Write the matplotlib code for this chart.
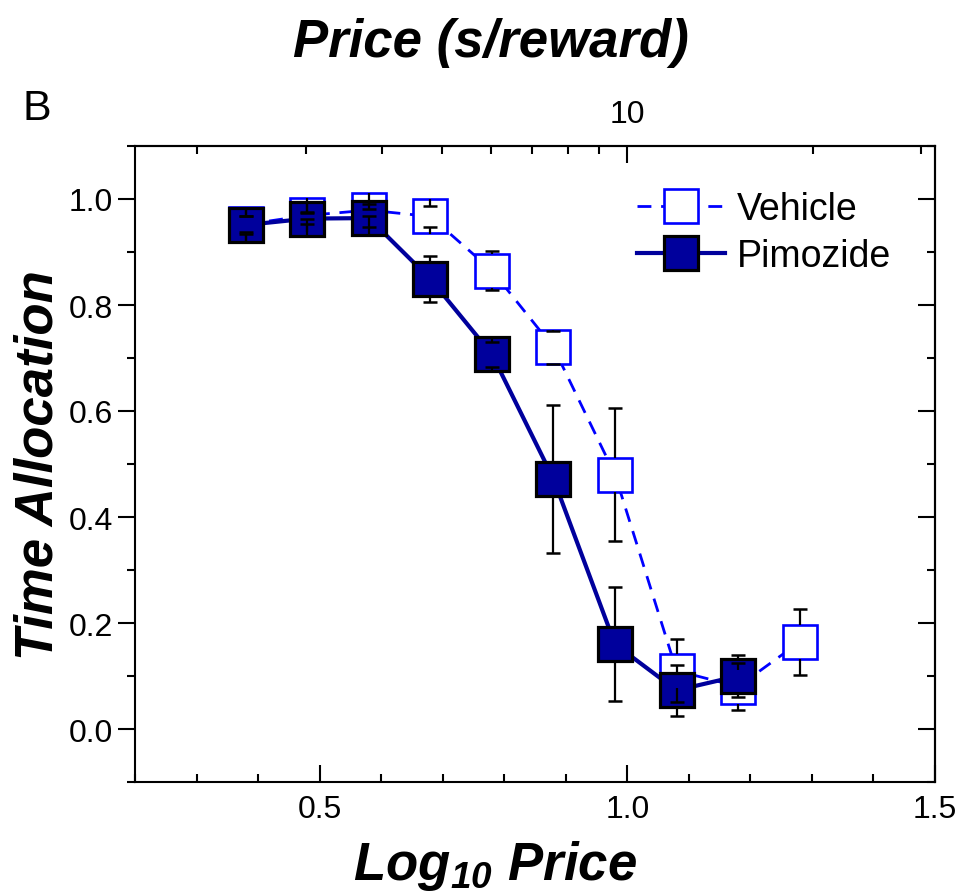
import matplotlib
matplotlib.use("Agg")
import matplotlib.pyplot as plt
from matplotlib.ticker import MultipleLocator, FormatStrFormatter
import numpy as np

# data (log10 of price, mean time allocation, error)
log_price_veh = [0.38, 0.48, 0.58, 0.68, 0.78, 0.88, 0.98, 1.08, 1.18, 1.28]
veh_mean = [0.952, 0.969, 0.979, 0.967, 0.865, 0.720, 0.480, 0.110, 0.080, 0.164]
veh_err = [0.015, 0.006, 0.012, 0.020, 0.037, 0.031, 0.125, 0.059, 0.045, 0.063]

log_price_pim = [0.38, 0.48, 0.58, 0.68, 0.78, 0.88, 0.98, 1.08, 1.18]
pim_mean = [0.951, 0.963, 0.964, 0.849, 0.707, 0.472, 0.160, 0.073, 0.100]
pim_err = [0.017, 0.010, 0.017, 0.043, 0.024, 0.139, 0.107, 0.048, 0.040]

top_major = [10]
top_minor = [2, 3, 4, 5, 6, 7, 8, 9, 20, 30]

plt.rcParams['font.family'] = ['Liberation Sans', 'DejaVu Sans']

W, H = 959, 895
fig = plt.figure(figsize=(W / 100, H / 100), dpi=100)
ax = fig.add_axes([135 / W, 1 - 783 / H, 800 / W, 636 / H])
ax.set_xlim(0.2, 1.5)
ax.set_ylim(-0.1, 1.1)

navy = '#00009C'
blue = '#0000FF'
ms = 24.5

veh_line, = ax.plot(log_price_veh, veh_mean, color=blue, lw=2.0, ls=(0, (5, 3.5)),
                    marker='s', ms=ms, mfc='white', mec=blue, mew=1.9, zorder=2,
                    label='Vehicle')
pim_line, = ax.plot(log_price_pim, pim_mean, color=navy, lw=3,
                    marker='s', ms=ms, mfc=navy, mec='black', mew=2.3, zorder=3,
                    label='Pimozide')

# Origin style error bars: from the marker edge out to the cap
ax_h_px = 636
half = ms * 100 / 72 / 2 * (1.2 / ax_h_px)


def edge_errorbars(x, y, err):
    x = np.asarray(x)
    y = np.asarray(y)
    err = np.asarray(err)
    for s in (1, -1):
        ax.vlines(x, y + s * half, y + s * err, color='black', lw=1.6, zorder=4)
        ax.plot(x, y + s * err, ls='none', marker='_', ms=10, mew=1.8,
                color='black', zorder=4)


edge_errorbars(log_price_veh, veh_mean, veh_err)
edge_errorbars(log_price_pim, pim_mean, pim_err)

# axes styling
for sp in ax.spines.values():
    sp.set_linewidth(1.5)

ax.xaxis.set_major_locator(MultipleLocator(0.5))
ax.xaxis.set_minor_locator(MultipleLocator(0.1))
ax.xaxis.set_major_formatter(FormatStrFormatter('%.1f'))
ax.yaxis.set_major_locator(MultipleLocator(0.2))
ax.yaxis.set_minor_locator(MultipleLocator(0.1))
ax.yaxis.set_major_formatter(FormatStrFormatter('%.1f'))

ax.tick_params(axis='x', which='both', direction='in', top=False, labelsize=23, pad=9, width=1.5)
ax.tick_params(axis='x', which='major', length=12)
ax.tick_params(axis='x', which='minor', length=6)
ax.tick_params(axis='y', which='both', direction='out', right=False, labelsize=23, pad=4, width=1.5)
ax.tick_params(axis='y', which='major', length=12)
ax.tick_params(axis='y', which='minor', length=6)

sec_top = ax.secondary_xaxis('top')
sec_top.set_xticks(np.log10(top_major), labels=[str(v) for v in top_major])
sec_top.set_xticks(np.log10(top_minor), minor=True)
sec_top.tick_params(which='both', direction='in', labelsize=23, pad=12, width=1.5)
sec_top.tick_params(which='major', length=12)
sec_top.tick_params(which='minor', length=6)
sec_top.spines['top'].set_linewidth(1.5)

sec_right = ax.secondary_yaxis('right')
sec_right.yaxis.set_major_locator(MultipleLocator(0.2))
sec_right.yaxis.set_minor_locator(MultipleLocator(0.1))
sec_right.tick_params(which='both', direction='in', labelright=False, width=1.5)
sec_right.tick_params(which='major', length=12)
sec_right.tick_params(which='minor', length=6)
sec_right.spines['right'].set_linewidth(1.5)

ax.legend(handles=[veh_line, pim_line], loc='upper left', frameon=False,
          bbox_to_anchor=(637 / W, 1 - 192 / H), bbox_transform=fig.transFigure,
          fontsize=27, handlelength=2.35, handletextpad=0.3, labelspacing=0.3,
          borderpad=0, borderaxespad=0, numpoints=1)

label_font = dict(fontsize=38, fontweight='bold', fontstyle='italic')
fig.text(491 / W, 1 - 57 / H, 'Price (s/reward)', ha='center', va='baseline', **label_font)
fig.text(495 / W, 1 - 880 / H, r'Log$_\mathregular{10}$ Price', ha='center', va='baseline', **label_font)
fig.text(53 / W, 1 - 465 / H, 'Time Allocation', ha='center', va='baseline',
         rotation=90, rotation_mode='anchor', **label_font)
fig.text(22 / W, 1 - 120 / H, 'B', ha='left', va='baseline', fontsize=31)

fig.savefig('out.png', dpi=100)
